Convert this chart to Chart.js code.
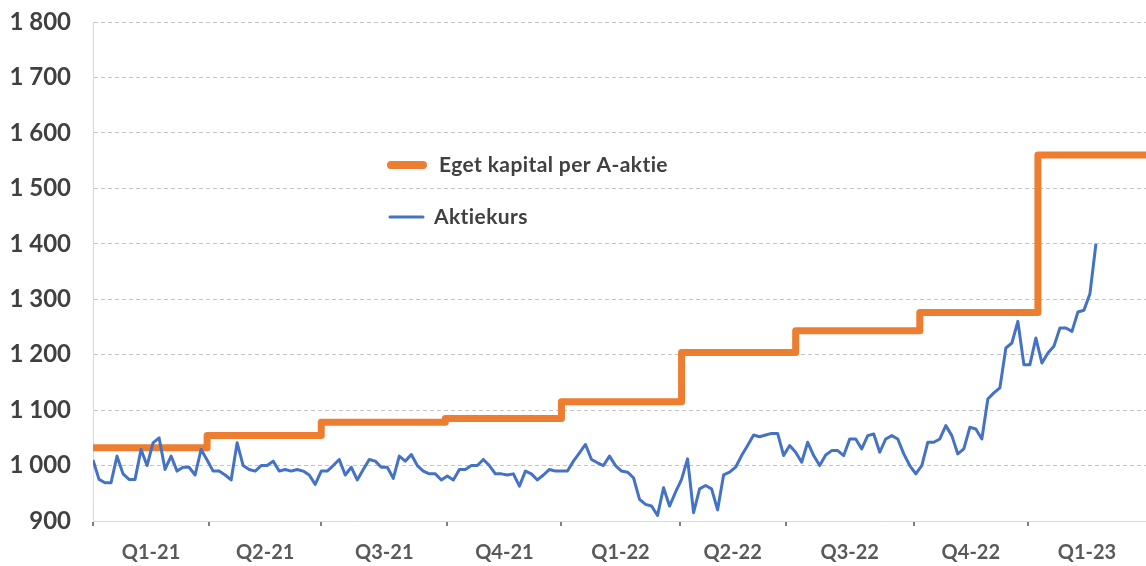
<!DOCTYPE html>
<html>
<head>
<meta charset="utf-8">
<script src="https://cdn.jsdelivr.net/npm/chart.js@4.4.0/dist/chart.umd.min.js"></script>
<style>
  html, body { margin: 0; padding: 0; background: #fff; }
  #wrap { width: 1146px; height: 566px; position: relative; }
</style>
</head>
<body>
<div id="wrap"><canvas id="chart"></canvas></div>
<script>
'use strict';

// x is a trading-day index, counted from the first day of Q1-21
const quarterLabels = ['Q1-21', 'Q2-21', 'Q3-21', 'Q4-21', 'Q1-22', 'Q2-22', 'Q3-22', 'Q4-22', 'Q1-23'];
const quarterStarts = [0, 58, 114, 177, 234, 293, 346, 410, 467];
const lastDay = 526;

// equity per A-share, stepped: day the new level starts, value
const equityDays = [0, 57, 114, 176, 234, 294, 351, 413, 472, 526];
const equityValues = [1032, 1054, 1078, 1085, 1115, 1204, 1243, 1276, 1560, 1560];

// share price, one reading every third trading day
const priceStep = 3;
const priceValues = [
    1010, 975, 969, 969, 1017, 985, 975, 975, 1029, 1000,
    1041, 1050, 993, 1017, 990, 997, 997, 983, 1029, 1010,
    990, 990, 983, 974, 1041, 1000, 993, 990, 1000, 1000,
    1008, 990, 993, 990, 993, 990, 983, 966, 990, 990,
    1000, 1011, 983, 997, 974, 993, 1011, 1008, 997, 997,
    977, 1017, 1008, 1020, 1000, 990, 985, 985, 974, 981,
    974, 993, 993, 1000, 1000, 1011, 1000, 985, 985, 983,
    985, 963, 990, 985, 974, 983, 993, 990, 990, 990,
    1008, 1023, 1038, 1011, 1005, 1000, 1017, 1000, 990, 988,
    978, 939, 930, 927, 910, 960, 927, 952, 975, 1012,
    915, 958, 964, 958, 920, 983, 988, 997, 1018, 1036,
    1055, 1052, 1055, 1058, 1058, 1018, 1036, 1024, 1006, 1042,
    1018, 1000, 1019, 1027, 1027, 1018, 1048, 1048, 1030, 1054,
    1057, 1024, 1048, 1054, 1048, 1021, 1000, 985, 1000, 1042,
    1042, 1048, 1072, 1054, 1021, 1030, 1069, 1066, 1048, 1120,
    1131, 1140, 1212, 1221, 1260, 1182, 1182, 1230, 1185, 1203,
    1215, 1248, 1248, 1242, 1277, 1280, 1310, 1400
];

const seriesNames = ['Eget kapital per A-aktie', 'Aktiekurs'];
const orange = '#ED7D31';
const blue = '#4472C4';
const fontFamily = 'Lato, "Open Sans", sans-serif';

let equityData = equityDays.map((d, i) => ({ x: d, y: equityValues[i] }));
let priceData = priceValues.map((v, i) => ({ x: i * priceStep, y: v }));

// label positions sit halfway between quarter boundaries
let quarterMids = quarterStarts.map((s, i) => {
    let end = i + 1 < quarterStarts.length ? quarterStarts[i + 1] : lastDay;
    return (s + end) / 2;
});

function formatThousands(v) {
    if (v < 1000) {
        return String(v);
    }
    return Math.floor(v / 1000) + ' ' + String(v % 1000).padStart(3, '0');
}

const insideLegend = {
    id: 'insideLegend',
    afterDraw(chart) {
        let ctx = chart.ctx;
        let items = [
            { label: seriesNames[0], color: orange, width: 8, x1: 391, x2: 423, tx: 439, y: 165 },
            { label: seriesNames[1], color: blue, width: 3, x1: 390, x2: 423, tx: 434, y: 217 }
        ];
        ctx.save();
        // letter spacing keeps the browser from joining "ti" into a ligature
        ctx.letterSpacing = '0.4px';
        items.forEach(it => {
            ctx.beginPath();
            ctx.lineCap = 'round';
            ctx.lineWidth = it.width;
            ctx.strokeStyle = it.color;
            ctx.moveTo(it.x1, it.y);
            ctx.lineTo(it.x2, it.y);
            ctx.stroke();
            ctx.fillStyle = '#404040';
            ctx.font = 'bold 21px ' + fontFamily;
            ctx.textBaseline = 'middle';
            ctx.textAlign = 'left';
            ctx.fillText(it.label, it.tx, it.y);
        });
        ctx.restore();
    }
};

const ctx = document.getElementById('chart').getContext('2d');
const chart = new Chart(ctx, {
    type: 'line',
    data: {
        datasets: [
            {
                label: seriesNames[0],
                data: equityData,
                borderColor: orange,
                borderWidth: 7,
                stepped: 'before',
                borderJoinStyle: 'round',
                pointRadius: 0,
                order: 2
            },
            {
                label: seriesNames[1],
                data: priceData,
                borderColor: blue,
                borderWidth: 3,
                borderJoinStyle: 'round',
                tension: 0,
                pointRadius: 0,
                order: 1
            }
        ]
    },
    options: {
        responsive: true,
        maintainAspectRatio: false,
        animation: false,
        devicePixelRatio: 1,
        layout: { padding: { top: 22, right: 0, left: 0, bottom: 0 } },
        plugins: {
            legend: { display: false },
            tooltip: { enabled: false }
        },
        scales: {
            x: {
                type: 'linear',
                min: 0,
                max: lastDay,
                afterBuildTicks: (scale) => {
                    let vals = quarterStarts.concat(quarterMids).sort((a, b) => a - b);
                    scale.ticks = vals.map(v => ({ value: v }));
                },
                afterFit: (scale) => { scale.height = 45; },
                grid: {
                    drawOnChartArea: false,
                    drawTicks: true,
                    tickLength: 5,
                    lineWidth: 2,
                    tickColor: (c) => (c.tick && quarterStarts.includes(c.tick.value)) ? '#808080' : 'rgba(0,0,0,0)'
                },
                border: { display: true, color: '#d9d9d9', width: 1 },
                ticks: {
                    autoSkip: false,
                    maxRotation: 0,
                    padding: 15,
                    color: '#595959',
                    font: { family: fontFamily, weight: 'bold', size: 20 },
                    callback: (v) => {
                        let i = quarterMids.indexOf(v);
                        return i >= 0 ? quarterLabels[i] : '';
                    }
                }
            },
            y: {
                min: 900,
                max: 1800,
                afterFit: (scale) => {
                    scale.width = 93;
                    scale.paddingTop = 0;
                    scale.paddingBottom = 0;
                },
                grid: {
                    drawTicks: false,
                    lineWidth: 1,
                    color: (c) => (c.tick && c.tick.value === 900) ? 'rgba(0,0,0,0)' : '#c4c4c4'
                },
                border: { display: true, color: '#d9d9d9', width: 1, dash: [4, 3] },
                ticks: {
                    stepSize: 100,
                    padding: 22,
                    color: '#404040',
                    font: { family: fontFamily, weight: 'bold', size: 24 },
                    callback: (v) => formatThousands(v)
                }
            }
        }
    },
    plugins: [insideLegend]
});
</script>
</body>
</html>
